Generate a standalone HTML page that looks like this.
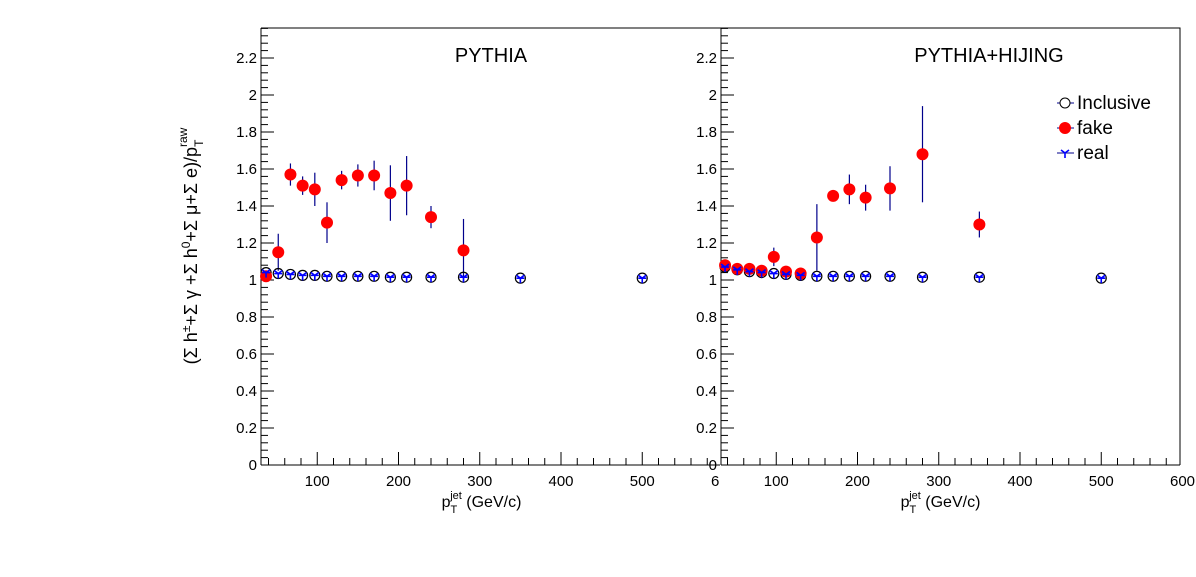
<!DOCTYPE html>
<html><head><meta charset="utf-8"><style>
body{margin:0;background:#fff;}
svg{font-family:"Liberation Sans",sans-serif;}
</style></head><body>
<svg id="c" width="1196" height="572" xmlns="http://www.w3.org/2000/svg">
<defs><clipPath id="clipL"><rect x="0" y="0" width="720" height="572"/></clipPath></defs>
</svg>
<script>
const xBins=[37,52,67,82,97,112,130,150,170,190,210,240,280,350,500];
const leftIncl=[1.04,1.035,1.03,1.025,1.025,1.02,1.02,1.02,1.02,1.015,1.015,1.015,1.015,1.01,1.01];
const leftReal=[1.04,1.035,1.03,1.025,1.025,1.02,1.02,1.02,1.02,1.015,1.015,1.015,1.015,1.01,1.01];
const leftFake=[1.02,1.15,1.57,1.51,1.49,1.31,1.54,1.565,1.565,1.47,1.51,1.34,1.16];
const leftFakeErr=[0.02,0.1,0.06,0.05,0.09,0.11,0.05,0.06,0.08,0.15,0.16,0.06,0.17];
const rightIncl=[1.07,1.055,1.045,1.04,1.035,1.03,1.025,1.02,1.02,1.02,1.02,1.02,1.015,1.015,1.01];
const rightReal=[1.07,1.055,1.045,1.04,1.035,1.03,1.025,1.02,1.02,1.02,1.02,1.02,1.015,1.015,1.01];
const rightFake=[1.08,1.06,1.06,1.05,1.125,1.045,1.035,1.23,1.455,1.49,1.445,1.495,1.68,1.30];
const rightFakeErr=[0.02,0.02,0.02,0.02,0.05,0.02,0.02,0.18,0.03,0.08,0.07,0.12,0.26,0.07];
const yTicks=[0,0.2,0.4,0.6,0.8,1,1.2,1.4,1.6,1.8,2,2.2];
const xTicks=[100,200,300,400,500,600];

const NS="http://www.w3.org/2000/svg";
const svg=document.getElementById('c');
function el(t,a,p){const e=document.createElementNS(NS,t);for(const k in a)e.setAttribute(k,a[k]);(p||svg).appendChild(e);return e;}
const Y0=465,YTOP=28,YMAX=(465-28)/185;
function sy(v){return Y0-v*185;}
function mkX(x0){return v=>x0+v*0.8125;}

function panel(name,axL,axR,x0,incl,real,fake,ferr,title,titleX,clip){
  const g=el('g',{});
  
  
  const sx=mkX(x0);
  const ya=el('g',{},g);
  
  
  el('line',{x1:axL,y1:YTOP,x2:axL,y2:Y0,stroke:'#000','stroke-width':1},ya);
  for(let i=0;i<=59;i++){const v=i*0.04;if(v>YMAX)break;const y=sy(v);const maj=i%5==0;
    el('line',{x1:axL,y1:y,x2:axL+(maj?13:7),y2:y,stroke:'#000'},ya);}
  yTicks.forEach(v=>{const t=el('text',{x:axL-4,y:sy(v)+5,'text-anchor':'end','font-size':15},ya);t.textContent=String(v);
    });
  const xa=el('g',{},g);
  
  
  if(clip)xa.setAttribute('clip-path','url(#clipL)');
  el('line',{x1:axL,y1:Y0,x2:axR,y2:Y0,stroke:'#000'},xa);
  for(let v=40;v<=600;v+=20){const x=sx(v);if(x<axL||x>axR)continue;const maj=v%100==0;
    el('line',{x1:x,y1:Y0,x2:x,y2:Y0-(maj?13:7),stroke:'#000'},xa);}
  xTicks.forEach(v=>{const t=el('text',{x:sx(v),y:Y0+21,'text-anchor':'middle','font-size':15},xa);t.textContent=String(v);
    });
  const xt=el('text',{x:sx(253),y:507,'font-size':16},xa);
  
  xt.innerHTML='p<tspan dy="6" font-size="11">T</tspan><tspan dx="-7" dy="-14" font-size="11">jet</tspan><tspan dy="8"> (GeV/c)</tspan>';
  const tt=el('text',{x:titleX,y:62,'text-anchor':'middle','font-size':20},g);tt.textContent=title;
  
  fake.forEach((v,i)=>{const x=sx(xBins[i]);
    const l=el('line',{x1:x,y1:sy(v+ferr[i]),x2:x,y2:sy(v-ferr[i]),stroke:'#00008b','stroke-width':1.2},g);
    });
  incl.forEach((v,i)=>{const c=el('circle',{cx:sx(xBins[i]),cy:sy(v),r:5,fill:'none',stroke:'#000','stroke-width':1.2},g);
    });
  fake.forEach((v,i)=>{const c=el('circle',{cx:sx(xBins[i]),cy:sy(v),r:6,fill:'#ff0000'},g);
    });
  real.forEach((v,i)=>{const x=sx(xBins[i]),y=sy(v);
    const p=el('path',{d:`M${x-4},${y-3}L${x},${y}L${x+4},${y-3}M${x},${y}V${y+5}M${x-4},${y}H${x+4}`,stroke:'#0000ff','stroke-width':1.6,fill:'none'},g);
    });
}
const fr=el('path',{d:'M261,28H1180V465',fill:'none',stroke:'#000'});

panel('left',261,720,236,leftIncl,leftReal,leftFake,leftFakeErr,'PYTHIA',491,true);
panel('right',721,1180,695,rightIncl,rightReal,rightFake,rightFakeErr,'PYTHIA+HIJING',989,false);
const yt=el('text',{transform:'translate(197,246) rotate(-90)','text-anchor':'middle','font-size':18});

yt.innerHTML='(Σ h<tspan dy="-7" font-size="12">±</tspan><tspan dy="7">+Σ γ +Σ h</tspan><tspan dy="-7" font-size="12">0</tspan><tspan dy="7">+Σ μ+Σ e)/p</tspan><tspan dy="6" font-size="12">T</tspan><tspan dx="-7" dy="-16" font-size="12">raw</tspan>';
const lg=el('g',{});

const items=[['Inclusive',103],['fake',128],['real',153]];
items.forEach(([n,y],i)=>{
  const e=el('g',{},lg);
  
  el('line',{x1:1057,y1:y,x2:1074,y2:y,stroke:'#00008b'},e);
  if(i==0)el('circle',{cx:1065,cy:y,r:5,fill:'#fff',stroke:'#000'},e);
  if(i==1)el('circle',{cx:1065,cy:y,r:6,fill:'#ff0000'},e);
  if(i==2)el('path',{d:`M1061,${y-3}L1065,${y}L1069,${y-3}M1065,${y}V${y+5}`,stroke:'#0000ff','stroke-width':1.6,fill:'none'},e);
  const t=el('text',{x:1077,y:y+6,'font-size':19},e);t.textContent=n;
});
</script>
</body></html>
